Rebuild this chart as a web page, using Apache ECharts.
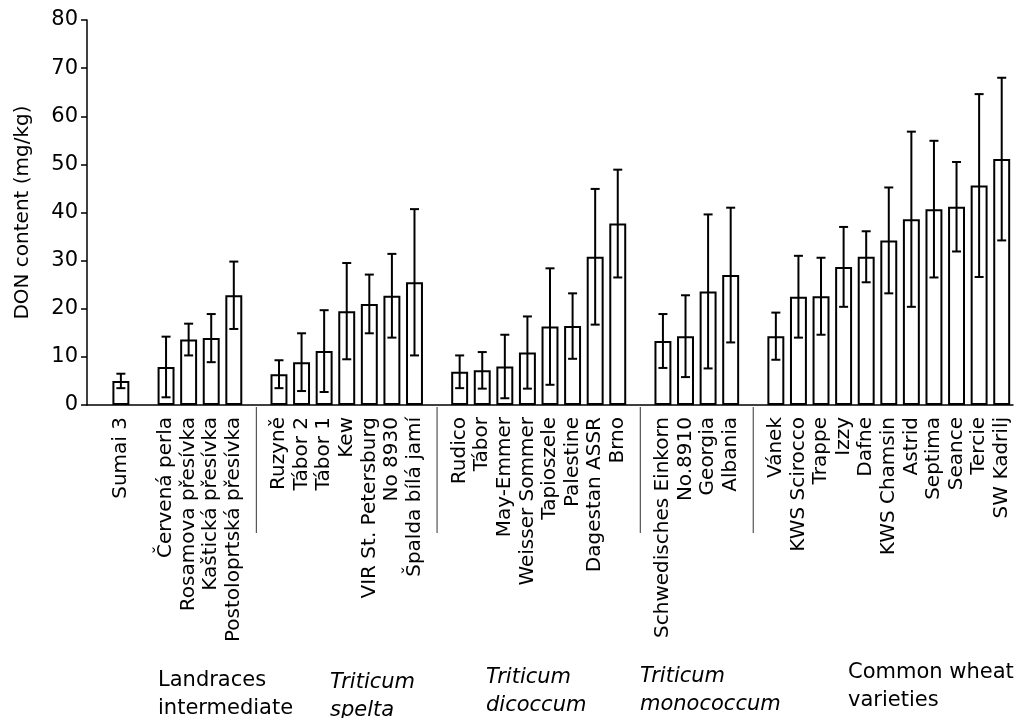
<!DOCTYPE html>
<html>
<head>
    <meta charset="utf-8">
    <title>DON content</title>
    <script src="https://cdn.jsdelivr.net/npm/echarts@6/dist/echarts.min.js"></script>
    <style>
        html, body { margin: 0; padding: 0; background: #fff; }
    </style>
</head>
<body>
    <div id="main" style="width: 1018px;height:718px;"></div>
    <script type="text/javascript">
        // '' = empty slot between groups
        var varieties = ['', 'Sumai 3', '', 'Červená perla', 'Rosamova přesívka', 'Kaštická přesívka', 'Postoloprtská přesívka',
            '', 'Ruzyně', 'Tábor 2', 'Tábor 1', 'Kew', 'VIR St. Petersburg', 'No 8930', 'Špalda bílá jamí',
            '', 'Rudico', 'Tábor', 'May-Emmer', 'Weisser Sommer', 'Tapioszele', 'Palestine', 'Dagestan ASSR', 'Brno',
            '', 'Schwedisches Einkorn', 'No.8910', 'Georgia', 'Albania',
            '', 'Vánek', 'KWS Scirocco', 'Trappe', 'Izzy', 'Dafne', 'KWS Chamsin', 'Astrid', 'Septima', 'Seance', 'Tercie', 'SW Kadrilj'];
        var donMean = [null, 5.0, null, 7.9, 13.6, 13.9, 22.8,
            null, 6.4, 8.9, 11.2, 19.5, 21.0, 22.7, 25.5,
            null, 6.9, 7.2, 8.0, 10.9, 16.3, 16.4, 30.8, 37.7,
            null, 13.3, 14.3, 23.6, 27.0,
            null, 14.3, 22.5, 22.6, 28.7, 30.8, 34.2, 38.6, 40.7, 41.2, 45.6, 51.1];
        var donSd = [null, 1.5, null, 6.3, 3.3, 5.0, 7.0,
            null, 2.9, 6.0, 8.5, 10.0, 6.1, 8.7, 15.2,
            null, 3.4, 3.8, 6.6, 7.5, 12.1, 6.8, 14.1, 11.2,
            null, 5.6, 8.5, 16.0, 14.0,
            null, 4.9, 8.5, 8.0, 8.3, 5.3, 11.0, 18.2, 14.2, 9.3, 19.0, 16.9];
        var separatorSlots = [7, 15, 24, 29];
        var groupLabels = [
            { lines: ['Landraces', 'intermediate'], italic: false, x: 158, y: 681 },
            { lines: ['Triticum', 'spelta'], italic: true, x: 330, y: 683 },
            { lines: ['Triticum', 'dicoccum'], italic: true, x: 486, y: 678 },
            { lines: ['Triticum', 'monococcum'], italic: true, x: 640, y: 677 },
            { lines: ['Common wheat', 'varieties'], italic: false, x: 848, y: 673 }
        ];

        var FONT = 'DejaVu Sans';
        var dom = document.getElementById("main");
        var myChart = echarts.init(dom);

        var errData = [];
        for (var i = 0; i < donMean.length; i++) {
            if (donMean[i] != null) {
                errData.push([i, donMean[i] - donSd[i], donMean[i] + donSd[i]]);
            }
        }

        var option = {
            animation: false,
            backgroundColor: '#fff',
            grid: { left: 87, right: 5, top: 20, bottom: 313 },
            xAxis: {
                type: 'category',
                data: varieties,
                axisLine: { lineStyle: { color: '#000', width: 1.5 } },
                axisTick: { inside: true, length: 5, interval: 0, lineStyle: { color: '#000', width: 1.5 } },
                axisLabel: {
                    interval: 0, rotate: 90, margin: 12,
                    color: '#000', fontSize: 20, fontFamily: FONT
                }
            },
            yAxis: {
                type: 'value',
                min: 0, max: 80, interval: 10,
                name: 'DON content (mg/kg)',
                nameLocation: 'middle',
                nameGap: 54,
                nameTextStyle: { color: '#000', fontSize: 20, fontFamily: FONT },
                axisLine: { show: true, lineStyle: { color: '#000', width: 1.5 } },
                axisTick: { show: true, length: 6, lineStyle: { color: '#000', width: 1.5 } },
                axisLabel: { margin: 9, color: '#000', fontSize: 21, fontFamily: FONT },
                splitLine: { show: false }
            },
            series: [
                {
                    type: 'bar',
                    data: donMean,
                    barWidth: '75%',
                    itemStyle: { color: '#fff', borderColor: '#000', borderWidth: 2 }
                },
                {
                    type: 'custom',
                    data: errData,
                    z: 5,
                    renderItem: function (params, api) {
                        var lo = api.coord([api.value(0), api.value(1)]);
                        var hi = api.coord([api.value(0), api.value(2)]);
                        var w = 4.5;
                        var st = { stroke: '#000', lineWidth: 2 };
                        return {
                            type: 'group',
                            children: [
                                { type: 'line', shape: { x1: lo[0], y1: lo[1], x2: hi[0], y2: hi[1] }, style: st },
                                { type: 'line', shape: { x1: lo[0] - w, y1: lo[1], x2: lo[0] + w, y2: lo[1] }, style: st },
                                { type: 'line', shape: { x1: hi[0] - w, y1: hi[1], x2: hi[0] + w, y2: hi[1] }, style: st }
                            ]
                        };
                    }
                }
            ]
        };
        myChart.setOption(option);

        // group separators and group names below the axis
        var graphics = [];
        var y0 = myChart.convertToPixel({ yAxisIndex: 0 }, 0);
        separatorSlots.forEach(function (s) {
            var x = myChart.convertToPixel({ xAxisIndex: 0 }, s);
            graphics.push({
                type: 'line',
                shape: { x1: x, y1: y0 + 2, x2: x, y2: y0 + 128 },
                style: { stroke: '#555', lineWidth: 1.2 }
            });
        });
        groupLabels.forEach(function (g) {
            g.lines.forEach(function (t, k) {
                graphics.push({
                    type: 'text',
                    x: g.x, y: g.y + k * 28,
                    style: {
                        text: t, fill: '#000', fontSize: 21, fontFamily: FONT,
                        fontStyle: g.italic ? 'italic' : 'normal',
                        textAlign: 'left', textVerticalAlign: 'middle'
                    }
                });
            });
        });
        myChart.setOption({ graphic: graphics });
    </script>
</body>
</html>
